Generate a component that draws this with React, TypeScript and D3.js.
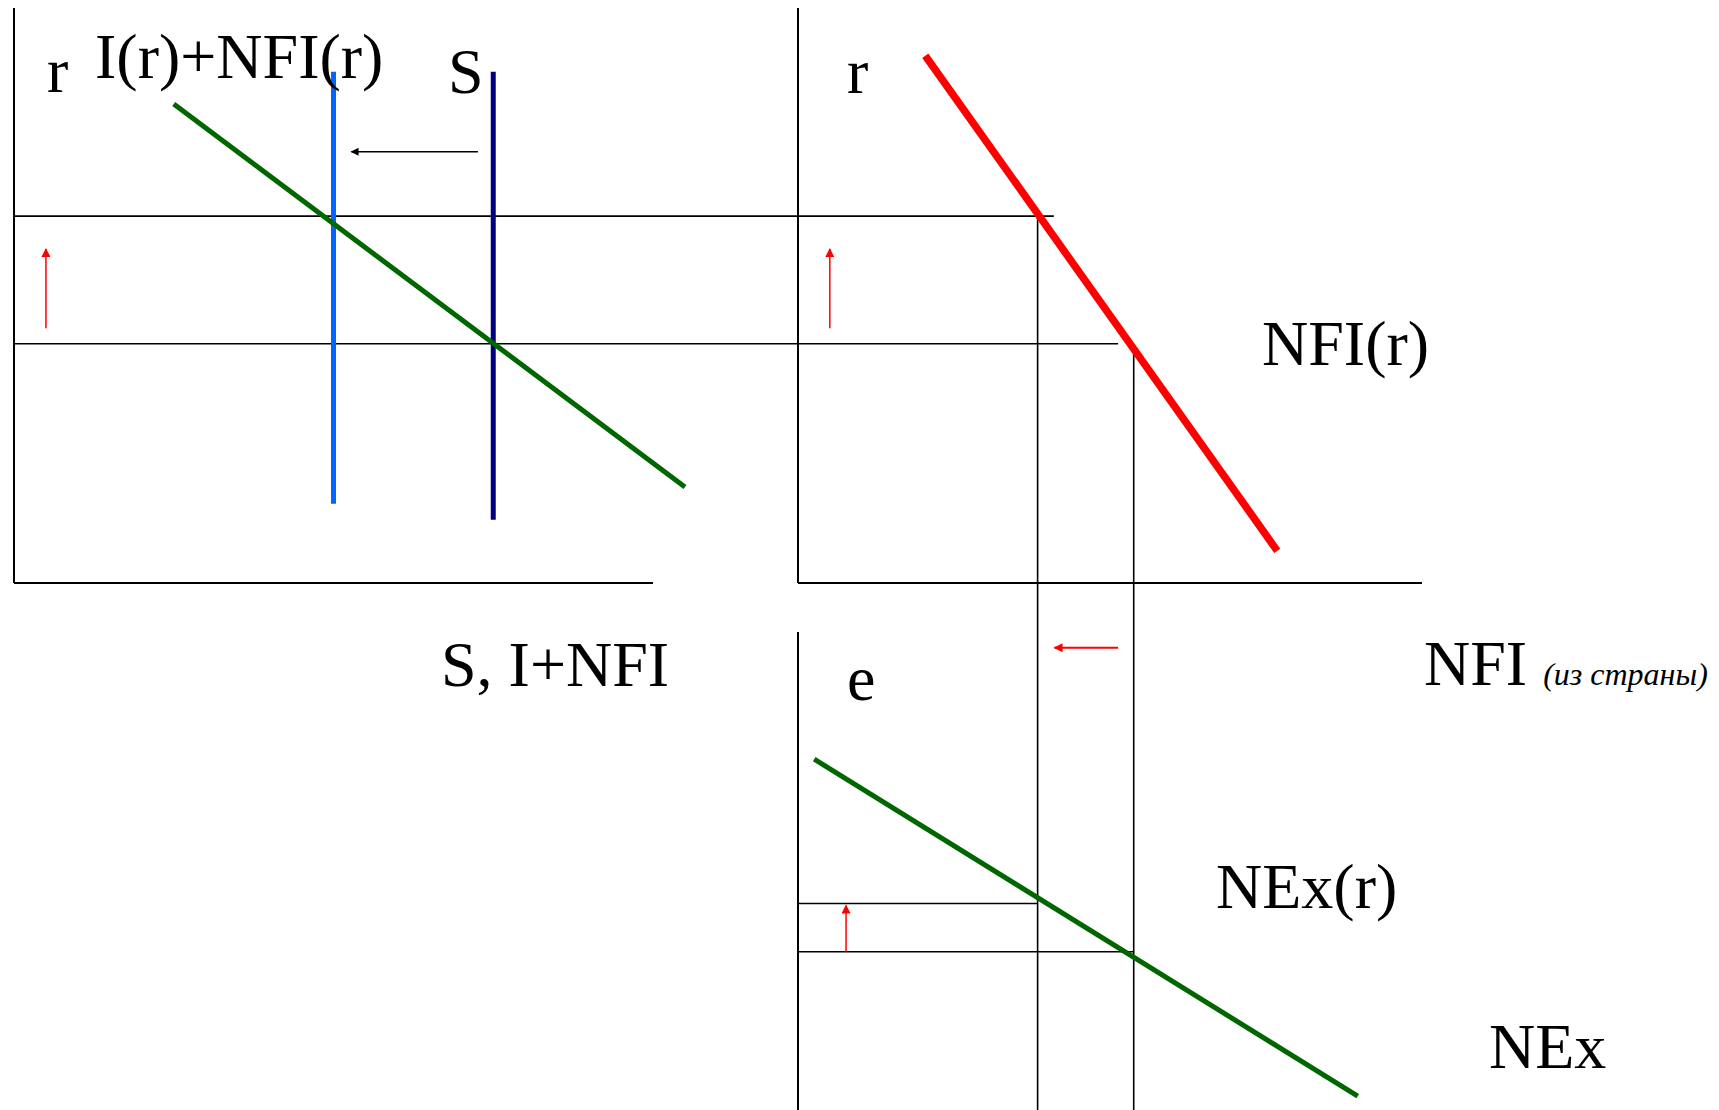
import React from "react";
import * as d3 from "d3";

// ---- data (abstract units) ----
// interest-rate levels r (before / after)
const R_LEVELS = [41.6, 63.8];
// savings S (vertical lines) : position on S, I+NFI axis, before / after
const S_POSITIONS = [75, 50];
const S_SPANS = [
  [11.0, 88.9],
  [13.8, 88.9],
];
// I(r)+NFI(r) curve
const INVEST_CURVE = [
  { q: 25, r: 83.3 },
  { q: 105, r: 16.7 },
];
// NFI(r) curve
const NFI_CURVE = [
  { q: 20.4, r: 91.7 },
  { q: 76.8, r: 5.6 },
];
// NFI levels (before / after)
const NFI_LEVELS = [53.8, 38.4];
// how far the r guide lines reach on the NFI axis (before / after)
const R_GUIDE_ENDS = [51.3, 41.0];
// NEx curve in (NEx, e) space
const NEX_CURVE = [
  { q: 2.6, e: 73.4 },
  { q: 89.7, e: 2.9 },
];
// exchange-rate levels e (before / after)
const E_LEVELS = [33.1, 43.2];

// arrows
const ARROW_S_SHIFT = { r: 75, from: 72.6, to: 52.8 };
const ARROW_R_UP_LEFT = { q: 5.0, from: 44.3, to: 58.1 };
const ARROW_R_UP_RIGHT = { q: 5.1, from: 44.3, to: 58.1 };
const ARROW_NFI_SHIFT = { e: 96.7, from: 51.3, to: 41.1 };
const ARROW_E_UP = { q: 7.7, from: 33.1, to: 42.8 };

// labels
const LABELS = {
  rLeft: "r",
  invest: "I(r)+NFI(r)",
  saving: "S",
  xLeft: "S, I+NFI",
  rRight: "r",
  nfiCurve: "NFI(r)",
  nfiAxis: "NFI",
  nfiNote: "(из страны)",
  e: "e",
  nexCurve: "NEx(r)",
  nexAxis: "NEx",
};

const W = 1719;
const H = 1110;
const FONT = "'Liberation Serif', 'Times New Roman', serif";

export default function App() {
  // scales
  const xTL = d3.scaleLinear().domain([0, 100]).range([14, 653]);
  const rY = d3.scaleLinear().domain([0, 100]).range([583, 8]);
  const xNFI = d3.scaleLinear().domain([0, 100]).range([798, 1422]);
  const eY = d3.scaleLinear().domain([0, 100]).range([1110, 632]);

  const investLine = d3
    .line<{ q: number; r: number }>()
    .x((d) => xTL(d.q))
    .y((d) => rY(d.r));
  const nfiLine = d3
    .line<{ q: number; r: number }>()
    .x((d) => xNFI(d.q))
    .y((d) => rY(d.r));
  const nexLine = d3
    .line<{ q: number; e: number }>()
    .x((d) => xNFI(d.q))
    .y((d) => eY(d.e));

  const thin = 1.6;
  const axisW = 2;

  return (
    <svg
      width={W}
      height={H}
      viewBox={`0 0 ${W} ${H}`}
      style={{ position: "absolute", left: 0, top: 0, display: "block", background: "#fff" }}
    >
      <defs>
        <marker id="arrRedBig" viewBox="0 0 10 10" refX="9" refY="5" markerWidth="12" markerHeight="9" markerUnits="userSpaceOnUse" orient="auto">
          <path d="M0,0 L10,5 L0,10 z" fill="#ff0000" />
        </marker>
        <marker id="arrBlack" viewBox="0 0 10 10" refX="9" refY="5" markerWidth="11" markerHeight="8" markerUnits="userSpaceOnUse" orient="auto">
          <path d="M0,0 L10,5 L0,10 z" fill="#000" />
        </marker>
      </defs>

      {/* ---- axes ---- */}
      <g stroke="#000" strokeWidth={axisW} fill="none">
        <line x1={xTL(0)} x2={xTL(0)} y1={rY(100)} y2={rY(0)} />
        <line x1={xTL(0)} x2={xTL(100)} y1={rY(0)} y2={rY(0)} />
        <line x1={xNFI(0)} x2={xNFI(0)} y1={rY(100)} y2={rY(0)} />
        <line x1={xNFI(0)} x2={xNFI(100)} y1={rY(0)} y2={rY(0)} />
        <line x1={xNFI(0)} x2={xNFI(0)} y1={eY(100)} y2={eY(0)} />
      </g>

      {/* ---- guide lines ---- */}
      <g stroke="#000" strokeWidth={thin} fill="none">
        {R_LEVELS.map((r, i) => (
          <line key={"rg" + i} x1={xTL(0)} x2={xNFI(R_GUIDE_ENDS[i])} y1={rY(r)} y2={rY(r)} />
        ))}
        {NFI_LEVELS.map((q, i) => (
          <line key={"vg" + i} x1={xNFI(q)} x2={xNFI(q)} y1={rY(R_LEVELS[i])} y2={eY(0)} />
        ))}
        {E_LEVELS.map((e, i) => (
          <line key={"eg" + i} x1={xNFI(0)} x2={xNFI(NFI_LEVELS[i])} y1={eY(e)} y2={eY(e)} />
        ))}
      </g>

      {/* ---- savings lines ---- */}
      <line
        x1={xTL(S_POSITIONS[1])}
        x2={xTL(S_POSITIONS[1])}
        y1={rY(S_SPANS[1][1])}
        y2={rY(S_SPANS[1][0])}
        stroke="#0066ff"
        strokeWidth={5}
      />
      <line
        x1={xTL(S_POSITIONS[0])}
        x2={xTL(S_POSITIONS[0])}
        y1={rY(S_SPANS[0][1])}
        y2={rY(S_SPANS[0][0])}
        stroke="#000080"
        strokeWidth={5}
      />

      {/* ---- curves ---- */}
      <path d={investLine(INVEST_CURVE) || ""} stroke="#006600" strokeWidth={5} fill="none" />
      <path d={nfiLine(NFI_CURVE) || ""} stroke="#ff0000" strokeWidth={7.5} fill="none" />
      <path d={nexLine(NEX_CURVE) || ""} stroke="#006600" strokeWidth={5} fill="none" />

      {/* ---- arrows ---- */}
      <line
        x1={xTL(ARROW_S_SHIFT.from)}
        x2={xTL(ARROW_S_SHIFT.to)}
        y1={rY(ARROW_S_SHIFT.r)}
        y2={rY(ARROW_S_SHIFT.r)}
        stroke="#000"
        strokeWidth={1.6}
        markerEnd="url(#arrBlack)"
      />
      <line
        x1={xTL(ARROW_R_UP_LEFT.q)}
        x2={xTL(ARROW_R_UP_LEFT.q)}
        y1={rY(ARROW_R_UP_LEFT.from)}
        y2={rY(ARROW_R_UP_LEFT.to)}
        stroke="#ff0000"
        strokeWidth={1.5}
        markerEnd="url(#arrRedBig)"
      />
      <line
        x1={xNFI(ARROW_R_UP_RIGHT.q)}
        x2={xNFI(ARROW_R_UP_RIGHT.q)}
        y1={rY(ARROW_R_UP_RIGHT.from)}
        y2={rY(ARROW_R_UP_RIGHT.to)}
        stroke="#ff0000"
        strokeWidth={1.5}
        markerEnd="url(#arrRedBig)"
      />
      <line
        x1={xNFI(ARROW_NFI_SHIFT.from)}
        x2={xNFI(ARROW_NFI_SHIFT.to)}
        y1={eY(ARROW_NFI_SHIFT.e)}
        y2={eY(ARROW_NFI_SHIFT.e)}
        stroke="#ff0000"
        strokeWidth={2}
        markerEnd="url(#arrRedBig)"
      />
      <line
        x1={xNFI(ARROW_E_UP.q)}
        x2={xNFI(ARROW_E_UP.q)}
        y1={eY(ARROW_E_UP.from)}
        y2={eY(ARROW_E_UP.to)}
        stroke="#ff0000"
        strokeWidth={1.5}
        markerEnd="url(#arrRedBig)"
      />

      {/* ---- labels ---- */}
      <g fontFamily={FONT} fontSize={64} fill="#000">
        <text x={47} y={92}>{LABELS.rLeft}</text>
        <text x={95} y={78}>{LABELS.invest}</text>
        <text x={448} y={93}>{LABELS.saving}</text>
        <text x={441} y={686}>{LABELS.xLeft}</text>
        <text x={847} y={93}>{LABELS.rRight}</text>
        <text x={1262} y={365}>{LABELS.nfiCurve}</text>
        <text x={1424} y={685}>
          {LABELS.nfiAxis}
          <tspan fontSize={32} fontStyle="italic" dx={16}>{LABELS.nfiNote}</tspan>
        </text>
        <text x={847} y={700}>{LABELS.e}</text>
        <text x={1216} y={908}>{LABELS.nexCurve}</text>
        <text x={1489} y={1068}>{LABELS.nexAxis}</text>
      </g>
    </svg>
  );
}
